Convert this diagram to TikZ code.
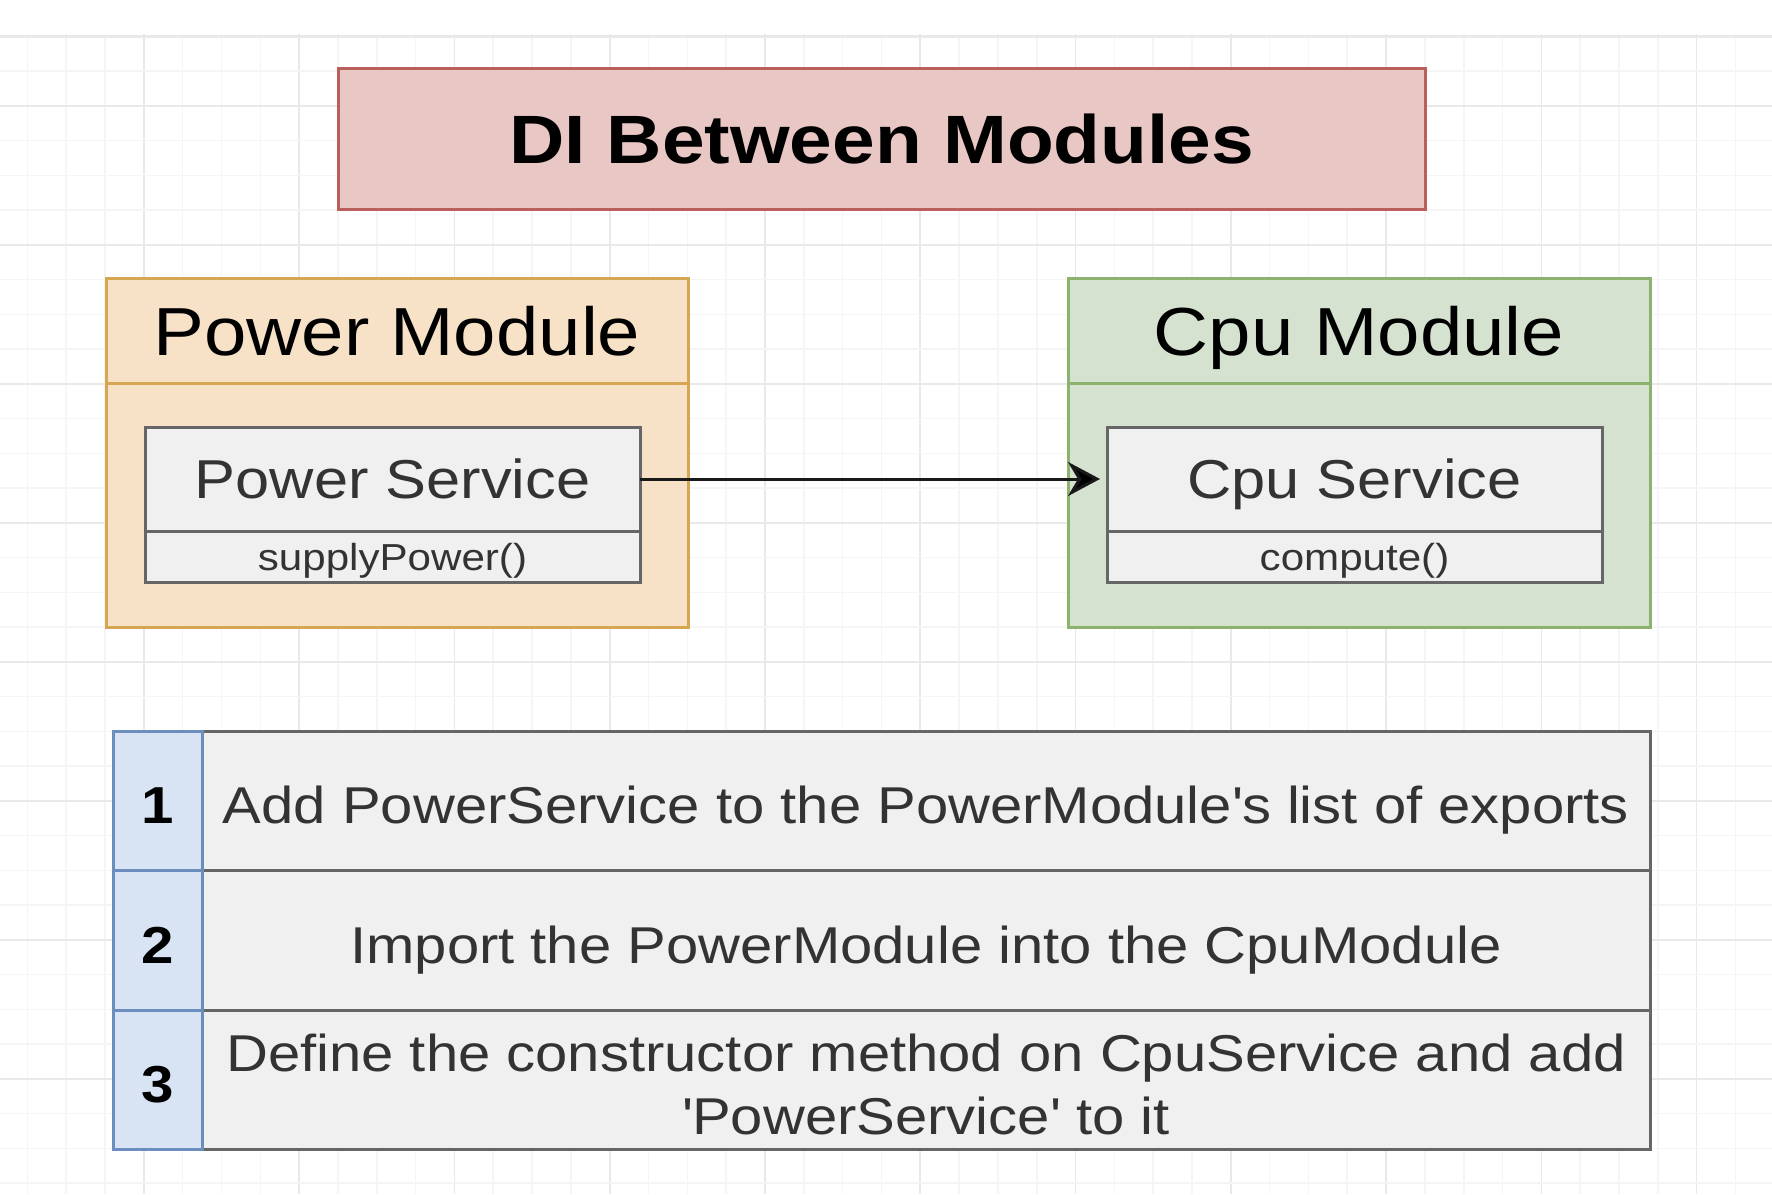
\documentclass[tikz,border=0pt]{standalone}
\usepackage{fontspec}
\setmainfont{Liberation Sans}[FakeStretch=1.12]
\usetikzlibrary{positioning, arrows.meta}

\definecolor{titlefill}{RGB}{233,199,196}
\definecolor{titledraw}{RGB}{185,96,92}
\definecolor{powerfill}{RGB}{247,226,200}
\definecolor{powerdraw}{RGB}{214,166,82}
\definecolor{cpufill}{RGB}{214,226,208}
\definecolor{cpudraw}{RGB}{140,178,112}
\definecolor{svcfill}{RGB}{240,240,240}
\definecolor{svcdraw}{RGB}{102,102,102}
\definecolor{numfill}{RGB}{216,227,244}
\definecolor{numdraw}{RGB}{108,142,191}
\definecolor{textgray}{RGB}{51,51,51}
\definecolor{gridminor}{RGB}{245,245,245}
\definecolor{gridmajor}{RGB}{233,233,233}

\begin{document}
\begin{tikzpicture}[x=0.5pt, y=-0.5pt,
    box/.style={draw, line width=1.5pt, inner sep=0pt, outer sep=0pt, text depth=0pt},
    titlebox/.style={box, text height=24.6pt, fill=titlefill, draw=titledraw, minimum width=543.5pt, minimum height=70.5pt, font=\bfseries\fontsize{34.2}{40}\selectfont},
    modhead/.style={box, text height=24.5pt, minimum width=291pt, minimum height=52.5pt, font=\fontsize{34}{40}\selectfont},
    modbody/.style={box, minimum width=291pt, minimum height=122pt},
    svchead/.style={box, text height=19.7pt, fill=svcfill, draw=svcdraw, text=textgray, minimum width=247.5pt, minimum height=52pt, font=\fontsize{27.4}{32}\selectfont},
    svcmeth/.style={box, text height=13.5pt, fill=svcfill, draw=svcdraw, text=textgray, minimum width=247.5pt, minimum height=25.5pt, font=\fontsize{18.8}{22}\selectfont},
    celltext/.style={text=textgray, align=center, font=\fontsize{25.9}{31.7}\selectfont},
    cell/.style={box, celltext, text height=23.1pt, fill=svcfill, draw=svcdraw, minimum width=724pt, minimum height=69.75pt},
    numcell/.style={box, text height=23.2pt, fill=numfill, draw=numdraw, minimum width=44.5pt, minimum height=69.75pt, font=\bfseries\fontsize{26}{31}\selectfont}]

    % canvas and grid
    \fill[white] (0,0) rectangle (1772,1194);
    \useasboundingbox (0,0) rectangle (1772,1194);
    \foreach \i in {0,...,44}{
        \pgfmathtruncatemacro{\m}{mod(\i,4)}
        \ifnum\m=3
            \draw[gridmajor, line width=0.8pt] (27.4+38.82*\i,0) -- (27.4+38.82*\i,1194);
        \else
            \draw[gridminor, line width=0.8pt] (27.4+38.82*\i,0) -- (27.4+38.82*\i,1194);
        \fi
    }
    \foreach \j in {0,...,33}{
        \pgfmathtruncatemacro{\m}{mod(\j,4)}
        \ifnum\m=2
            \draw[gridmajor, line width=0.8pt] (0,36.3+34.75*\j) -- (1772,36.3+34.75*\j);
        \else
            \draw[gridminor, line width=0.8pt] (0,36.3+34.75*\j) -- (1772,36.3+34.75*\j);
        \fi
    }
    \fill[white] (0,0) rectangle (1772,34);
    \draw[gridmajor, line width=1.5pt] (0,36.3) -- (1772,36.3);

    % title
    \node[titlebox] (title) at (881.5,138.5) {DI Between Modules};

    % modules
    \node[modhead, fill=powerfill, draw=powerdraw] (pm_head) at (397,330.5) {Power Module};
    \node[modbody, fill=powerfill, draw=powerdraw] (pm_body) [below=0pt of pm_head] {};
    \node[modhead, fill=cpufill, draw=cpudraw] (cm_head) at (1359,330.5) {Cpu Module};
    \node[modbody, fill=cpufill, draw=cpudraw] (cm_body) [below=0pt of cm_head] {};

    % services
    \node[svchead] (ps_head) at (392.5,479) {Power Service};
    \node[svcmeth] (ps_meth) [below=0pt of ps_head] {supplyPower()};
    \node[svchead] (cs_head) at (1354.5,479) {Cpu Service};
    \node[svcmeth] (cs_meth) [below=0pt of cs_head] {compute()};

    \path[-{Stealth[length=16pt, width=17pt, inset=5pt]}, line width=1.5pt, draw=black!90, shorten >=3.5pt]
        (ps_head) edge (cs_head);

    % steps
    \node[cell] (t_1) at (926,800.75) {Add PowerService to the PowerModule\textquotesingle s list of exports};
    \node[cell] (t_2) [below=0pt of t_1] {Import the PowerModule into the CpuModule};
    \node[cell] (t_3) [below=0pt of t_2] {};
    \node[celltext] (t_3_text) at ([yshift=-2.3pt]t_3.center) {Define the constructor method on CpuService and add\\\textquotesingle PowerService\textquotesingle{} to it};
    \node[numcell] (n_1) [left=0pt of t_1] {1};
    \node[numcell] (n_2) [left=0pt of t_2] {2};
    \node[numcell] (n_3) [left=0pt of t_3] {3};
\end{tikzpicture}
\end{document}
